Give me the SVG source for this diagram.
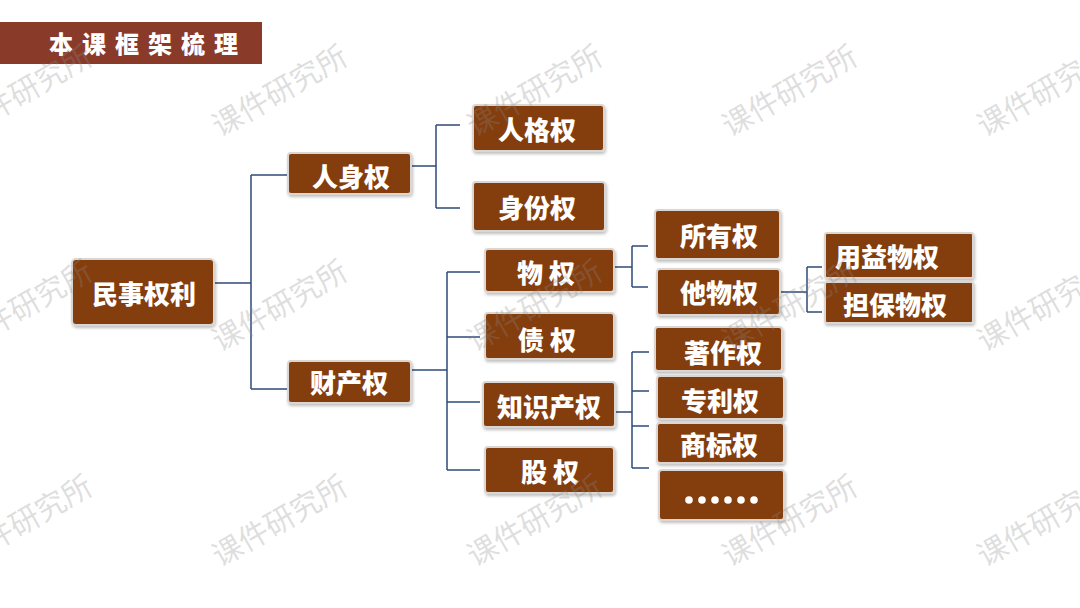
<svg xmlns="http://www.w3.org/2000/svg" width="1080" height="608" viewBox="0 0 1080 608">
<defs>
<filter id="sh" x="-10%" y="-10%" width="130%" height="140%">
<feDropShadow dx="1" dy="2" stdDeviation="1.5" flood-color="#000" flood-opacity="0.25"/>
</filter>
<style>
.box{fill:#843c0c;stroke:#dcd6d2;stroke-width:2;filter:url(#sh)}
.t{font-family:"Noto Sans CJK SC","Noto Sans",sans-serif;font-weight:900;fill:#fff;text-anchor:middle;font-size:26px}
.c{fill:none;stroke:#2f4a78;stroke-width:1.5}
.wm{font-family:"Noto Sans CJK SC","Noto Sans",sans-serif;font-size:30px;fill:#8a8a8a;fill-opacity:0.28;text-anchor:middle}
.dot{fill:#fff}
</style>
</defs>
<rect width="1080" height="608" fill="#fff"/>
<g id="title">
<rect x="0" y="22" width="262" height="42" fill="#8a3a28"/>
<text x="148" y="53" font-family="'Noto Sans CJK SC',sans-serif" font-weight="900" font-size="24" fill="#fff" text-anchor="middle" letter-spacing="9">本课框架梳理</text>
</g>
<g id="connectors">
<path class="c" d="M214 283H251M251 175V389M251 175H288M251 389H288"/>
<path class="c" d="M411 166H436M436 125V208M436 125H460M436 208H460"/>
<path class="c" d="M411 370H447M447 272V470M447 272H480M447 337H480M447 402H480M447 470H480"/>
<path class="c" d="M614 267H632M632 246V287M632 246H648M632 287H648"/>
<path class="c" d="M780 292H807M807 267V312M807 267H822M807 312H822"/>
<path class="c" d="M615 412H632M632 352V468M632 352H649M632 391H649M632 426H649M632 468H649"/>
</g>
<g id="n-minshi"><rect class="box" x="72" y="259" width="142" height="66" rx="4"/><text class="t" x="144" y="304">民事权利</text></g>
<g id="n-renshen"><rect class="box" x="288" y="153" width="123" height="41" rx="3"/><text class="t" x="351" y="187">人身权</text></g>
<g id="n-caichan"><rect class="box" x="288" y="361" width="123" height="42" rx="3"/><text class="t" x="349" y="393">财产权</text></g>
<g id="n-renge"><rect class="box" x="473" y="105" width="131" height="46" rx="3"/><text class="t" x="537" y="140">人格权</text></g>
<g id="n-shenfen"><rect class="box" x="473" y="182" width="132" height="49" rx="3"/><text class="t" x="537" y="218">身份权</text></g>
<g id="n-wu"><rect class="box" x="485" y="249" width="129" height="43" rx="3"/><text class="t" x="546" y="283">物 权</text></g>
<g id="n-zhai"><rect class="box" x="485" y="313" width="129" height="46" rx="3"/><text class="t" x="547" y="350">债 权</text></g>
<g id="n-zhishi"><rect class="box" x="483" y="382" width="132" height="45" rx="3"/><text class="t" x="549" y="417">知识产权</text></g>
<g id="n-gu"><rect class="box" x="485" y="447" width="129" height="46" rx="3"/><text class="t" x="550" y="482">股 权</text></g>
<g id="n-suoyou"><rect class="box" x="655" y="210" width="125" height="49" rx="3"/><text class="t" x="719" y="246">所有权</text></g>
<g id="n-tawu"><rect class="box" x="657" y="269" width="123" height="46" rx="3"/><text class="t" x="719" y="303">他物权</text></g>
<g id="n-yongyi"><rect class="box" x="825" y="233" width="148" height="45" rx="2"/><text class="t" x="887" y="267">用益物权</text></g>
<g id="n-danbao"><rect class="box" x="825" y="282" width="148" height="41" rx="2"/><text class="t" x="895" y="315">担保物权</text></g>
<g id="n-zhuzuo"><rect class="box" x="655" y="327" width="127" height="44" rx="3"/><text class="t" x="723" y="363">著作权</text></g>
<g id="n-zhuanli"><rect class="box" x="657" y="376" width="127" height="43" rx="3"/><text class="t" x="720" y="411">专利权</text></g>
<g id="n-shangbiao"><rect class="box" x="657" y="423" width="127" height="40" rx="3"/><text class="t" x="719" y="455">商标权</text></g>
<g id="n-more"><rect class="box" x="659" y="470" width="125" height="50" rx="3"/>
<circle class="dot" cx="689" cy="500" r="3.8"/><circle class="dot" cx="702" cy="500" r="3.8"/><circle class="dot" cx="715" cy="500" r="3.8"/><circle class="dot" cx="728" cy="500" r="3.8"/><circle class="dot" cx="741" cy="500" r="3.8"/><circle class="dot" cx="754" cy="500" r="3.8"/></g>
<g id="watermark">
<text class="wm" transform="translate(30 100) rotate(-30)">课件研究所</text>
<text class="wm" transform="translate(285 100) rotate(-30)">课件研究所</text>
<text class="wm" transform="translate(540 100) rotate(-30)">课件研究所</text>
<text class="wm" transform="translate(795 100) rotate(-30)">课件研究所</text>
<text class="wm" transform="translate(1050 100) rotate(-30)">课件研究所</text>
<text class="wm" transform="translate(30 315) rotate(-30)">课件研究所</text>
<text class="wm" transform="translate(285 315) rotate(-30)">课件研究所</text>
<text class="wm" transform="translate(540 315) rotate(-30)">课件研究所</text>
<text class="wm" transform="translate(795 315) rotate(-30)">课件研究所</text>
<text class="wm" transform="translate(1050 315) rotate(-30)">课件研究所</text>
<text class="wm" transform="translate(30 530) rotate(-30)">课件研究所</text>
<text class="wm" transform="translate(285 530) rotate(-30)">课件研究所</text>
<text class="wm" transform="translate(540 530) rotate(-30)">课件研究所</text>
<text class="wm" transform="translate(795 530) rotate(-30)">课件研究所</text>
<text class="wm" transform="translate(1050 530) rotate(-30)">课件研究所</text>
</g>
</svg>
